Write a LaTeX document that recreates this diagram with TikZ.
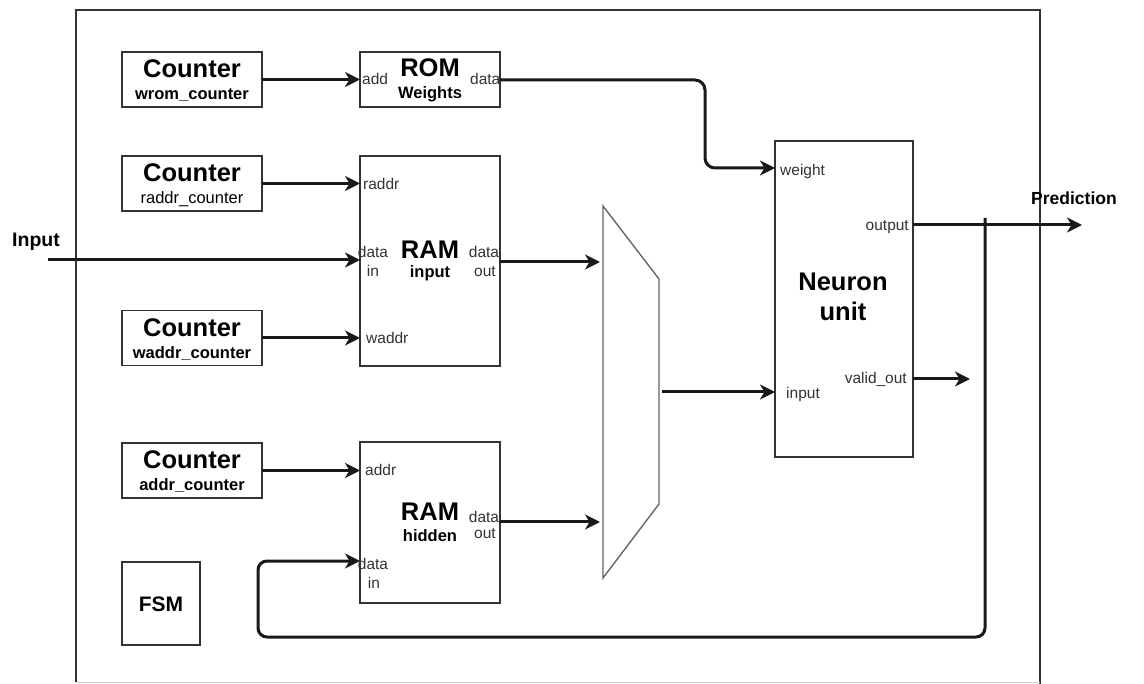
\documentclass[tikz,border=0pt]{standalone}
\usepackage{fontspec}
\setmainfont{Liberation Sans}
\usetikzlibrary{arrows.meta,calc}
\newcommand{\titlefont}{\fontsize{25.5}{27}\selectfont\bfseries}
\newcommand{\subfont}{\fontsize{16.5}{18}\selectfont}
\newcommand{\portfont}{\fontsize{15.5}{17}\selectfont}
\begin{document}
\begin{tikzpicture}[x=1pt,y=-1pt,
  blk/.style={draw=black!80,line width=1.3pt,inner sep=0pt,outer sep=0pt},
  cntbox/.style={blk,minimum width=140pt,minimum height=55pt},
  wire/.style={line width=3pt,draw=black!90,line join=round,
    -{Stealth[length=15pt,width=15pt,inset=4.5pt]}},
  txt/.style={inner sep=0pt,anchor=base},
  title/.style={txt,font=\titlefont},
  sub/.style={txt,font=\subfont},
  port/.style={txt,font=\portfont,text=black!80},
]
\useasboundingbox (0,0) rectangle (1144,684);

% outer frame
\draw[line width=1.3pt,black!80] (76,682) -- (76,10) -- (1040,10) -- (1040,684);
\draw[line width=0.8pt,black!20] (76,682) -- (1040,682);

% counters
\node[cntbox] (cw)  at (192,79.5)  {};
\node[cntbox] (cr)  at (192,183.5) {};
\node[cntbox] (cwa) at (192,338)   {};
\node[cntbox] (ca)  at (192,470.5) {};
\node[title] (cwT)  at ($(cw.north)+(0,26)$)  {Counter};
\node[sub,font=\subfont\bfseries] (cwS) at ($(cw.north)+(0,48)$) {wrom\_counter};
\node[title] (crT)  at ($(cr.north)+(0,26)$)  {Counter};
\node[sub] (crS)    at ($(cr.north)+(0,48)$)  {raddr\_counter};
\node[title] (cwaT) at ($(cwa.north)+(0,26)$) {Counter};
\node[sub,font=\subfont\bfseries] (cwaS) at ($(cwa.north)+(0,48)$) {waddr\_counter};
\node[title] (caT)  at ($(ca.north)+(0,26)$)  {Counter};
\node[sub,font=\subfont\bfseries] (caS) at ($(ca.north)+(0,48)$) {addr\_counter};

% ROM
\node[blk,minimum width=140pt,minimum height=55pt] (rom) at (430,79.5) {};
\node[title] (romT) at (430,77) {ROM};
\node[sub,font=\subfont\bfseries] (romS) at (430,99) {Weights};
\node[port,anchor=base west] (romA) at (362,85) {add};
\node[port,anchor=base east] (romD) at (500.5,85) {data};

% RAM input
\node[blk,minimum width=140pt,minimum height=210pt] (ramin) at (430,261) {};
\node[title] (raminT) at (430,259) {RAM};
\node[sub,font=\subfont\bfseries] (raminS) at (430,278) {input};
\node[port,anchor=base west] (raminR) at (363,189.5) {raddr};
\node[port] (raminDi1) at (373,258) {data};
\node[port] (raminDi2) at (373,277) {in};
\node[port] (raminDo1) at (484,258) {data};
\node[port] (raminDo2) at (485,277) {out};
\node[port,anchor=base west] (raminW) at (366,344) {waddr};

% RAM hidden
\node[blk,minimum width=140pt,minimum height=161pt] (ramh) at (430,522.5) {};
\node[title] (ramhT) at (430,521) {RAM};
\node[sub,font=\subfont\bfseries] (ramhS) at (430,541) {hidden};
\node[port,anchor=base west] (ramhA) at (365,476) {addr};
\node[port] (ramhDo1) at (484,522) {data};
\node[port] (ramhDo2) at (485,539) {out};
\node[port] (ramhDi1) at (373,569) {data};
\node[port] (ramhDi2) at (374,588) {in};

% FSM
\node[blk,minimum width=78pt,minimum height=83pt] (fsm) at (161,603.5) {};
\node[txt,font=\fontsize{21}{23}\selectfont\bfseries] (fsmT) at (161,611) {FSM};

% multiplexer
\coordinate (m1) at (603,206);
\coordinate (m2) at (659,279);
\coordinate (m3) at (659,504);
\coordinate (m4) at (603,578);
\draw[line width=1.4pt,black!60,line join=miter] (m1) -- (m2) -- (m3) -- (m4) -- cycle;

% neuron unit
\node[blk,minimum width=138pt,minimum height=316pt] (nu) at (844,299) {};
\node[title] (nuT1) at (843,291) {Neuron};
\node[title] (nuT2) at (843,321) {unit};
\node[port,anchor=base west] (nuW) at (780,176) {weight};
\node[port,anchor=base east] (nuO) at (909,230.5) {output};
\node[port,anchor=base east] (nuV) at (907,384) {valid\_out};
\node[port,anchor=base west] (nuI) at (786,399) {input};

% outside labels
\node[txt,font=\fontsize{19.5}{21}\selectfont\bfseries] (inL) at (36,247) {Input};
\node[txt,anchor=base west,font=\fontsize{17.5}{19}\selectfont\bfseries] (predL) at (1031,205) {Prediction};

% port coordinates
\coordinate (inp) at (48,260);
\coordinate (romDout) at (500,80);
\coordinate (raminDout) at (500,262);
\coordinate (ramhDout) at (500,522);
\coordinate (muxInA) at (600,262);
\coordinate (muxInB) at (600,522);
\coordinate (muxOut) at (662,392);
\coordinate (nuOut) at (913,225);
\coordinate (predTip) at (1082,225);
\coordinate (nuValid) at (913,379);
\coordinate (validTip) at (970,379);
\coordinate (fbTop) at (985,218);
\coordinate (ramhDin) at (360,561);

% connectors
\draw[wire] (cw) -- (rom);
\draw[wire] (cr.east) -- (cr.east -| ramin.west);
\draw[wire] (inp) -- (inp -| ramin.west);
\draw[wire] (cwa.east) -- (cwa.east -| ramin.west);
\draw[wire] (ca.east) -- (ca.east -| ramh.west);
\draw[wire] (raminDout) -- (muxInA);
\draw[wire] (ramhDout) -- (muxInB);
\draw[wire] (muxOut) -- (muxOut -| nu.west);
\draw[wire,rounded corners=10pt] (romDout) -- (705,80) -- (705,168) -- (nu.west |- 0,168);
\draw[wire] (nuOut) -- (predTip);
\draw[wire] (nuValid) -- (validTip);
\draw[wire,rounded corners=9pt] (fbTop) -- (985,637) -- (258,637) -- (258,561) -- (ramhDin);
\end{tikzpicture}
\end{document}
